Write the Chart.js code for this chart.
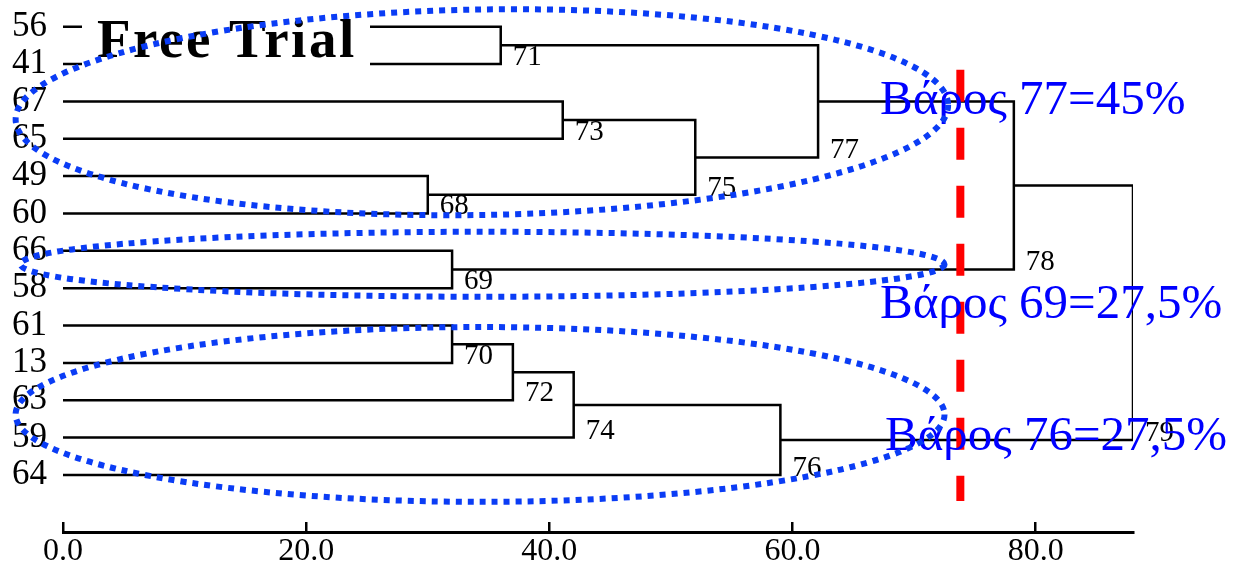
<!DOCTYPE html>
<html>
<head>
<meta charset="utf-8">
<script src="https://cdn.jsdelivr.net/npm/chart.js@4/dist/chart.umd.min.js"></script>
<style>
  html, body { margin: 0; padding: 0; background: #fff; }
  #wrap { width: 1238px; height: 567px; }
</style>
</head>
<body>
<div id="wrap"><canvas id="chart"></canvas></div>
<script>
// leaves, top to bottom
const leaves = ['56', '41', '67', '65', '49', '60', '66', '58', '61', '13', '63', '59', '64'];

// each merge: new node = mergeLeft + mergeRight at mergeHeight
const mergeNodes  = ['71', '73', '68', '75', '77', '69', '78', '70', '72', '74', '76', '79'];
const mergeLeft   = ['56', '67', '49', '73', '71', '66', '77', '61', '70', '72', '74', '78'];
const mergeRight  = ['41', '65', '60', '68', '75', '58', '69', '13', '63', '59', '64', '76'];
const mergeHeight = [36.0, 41.1, 30.0, 52.0, 62.1, 32.0, 78.2, 32.0, 37.0, 42.0, 59.0, 88.0];

const xTicks = [0, 20, 40, 60, 80];
const cutValue = 73.8;
const weightLabels = ['Βάρος 77=45%', 'Βάρος 69=27,5%', 'Βάρος 76=27,5%'];

const SERIF = "'Liberation Serif', 'DejaVu Serif', serif";

// node positions: leaves sit at their index, merged nodes halfway between children
const nodeY = {};
const nodeH = {};
leaves.forEach((l, i) => { nodeY[l] = i; nodeH[l] = 0; });
mergeNodes.forEach((n, i) => {
  nodeY[n] = (nodeY[mergeLeft[i]] + nodeY[mergeRight[i]]) / 2;
  nodeH[n] = mergeHeight[i];
});

const datasets = mergeNodes.map((n, i) => {
  const a = mergeLeft[i], b = mergeRight[i], h = mergeHeight[i];
  return {
    label: n,
    data: [
      { x: nodeH[a], y: nodeY[a] },
      { x: h, y: nodeY[a] },
      { x: h, y: nodeY[b] },
      { x: nodeH[b], y: nodeY[b] },
    ],
    showLine: true,
    borderColor: '#000',
    borderWidth: 2.5,
    pointRadius: 0,
    tension: 0,
  };
});

// annotation layout (in data units)
const ellipses = [
  { cx: 34.45, cy: 2.29, rx: 38.35, ry: 2.75, rot: -0.016 },
  { cx: 34.5, cy: 6.36, rx: 38.0, ry: 0.87, rot: 0 },
  { cx: 34.3, cy: 10.38, rx: 38.2, ry: 2.34, rot: 0 },
];
const weightPos = [{ x: 67.2, y: 2.0 }, { x: 67.2, y: 7.45 }, { x: 67.6, y: 11.0 }];

const overlay = {
  id: 'overlay',
  afterDatasetsDraw(chart) {
    const { ctx, scales: { x, y } } = chart;
    ctx.save();

    // node labels next to each join, sitting on the lower child's line
    ctx.fillStyle = '#000';
    ctx.font = '29px ' + SERIF;
    ctx.textAlign = 'left';
    ctx.textBaseline = 'alphabetic';
    mergeNodes.forEach((n, i) => {
      const px = x.getPixelForValue(mergeHeight[i]) + 12;
      const py = y.getPixelForValue(nodeY[mergeRight[i]]) + 1;
      ctx.fillText(n, px, py);
    });

    // watermark
    ctx.fillStyle = '#fff';
    ctx.fillRect(82, 14, 288, 58);
    ctx.fillStyle = '#000';
    ctx.font = 'bold 55px ' + SERIF;
    ctx.letterSpacing = '2.5px';
    ctx.fillText('Free Trial', 97, 57);
    ctx.letterSpacing = '0px';

    // cut line
    const cx = x.getPixelForValue(cutValue);
    ctx.strokeStyle = '#ff0000';
    ctx.lineWidth = 8;
    ctx.setLineDash([32, 26]);
    ctx.beginPath();
    ctx.moveTo(cx, y.getPixelForValue(1.15));
    ctx.lineTo(cx, y.getPixelForValue(12.7));
    ctx.stroke();

    // weight labels
    ctx.setLineDash([]);
    ctx.fillStyle = '#0000ff';
    ctx.font = '49px ' + SERIF;
    ctx.textBaseline = 'middle';
    weightLabels.forEach((t, i) => {
      ctx.fillText(t, x.getPixelForValue(weightPos[i].x), y.getPixelForValue(weightPos[i].y));
    });

    // cluster ellipses
    const ppx = Math.abs(x.getPixelForValue(1) - x.getPixelForValue(0));
    const ppy = Math.abs(y.getPixelForValue(1) - y.getPixelForValue(0));
    ctx.strokeStyle = '#0a3cf5';
    ctx.lineWidth = 6;
    ctx.setLineDash([6, 6]);
    ellipses.forEach(e => {
      ctx.beginPath();
      ctx.ellipse(x.getPixelForValue(e.cx), y.getPixelForValue(e.cy), e.rx * ppx, e.ry * ppy, e.rot, 0, Math.PI * 2);
      ctx.stroke();
    });
    ctx.restore();
  }
};

new Chart(document.getElementById('chart'), {
  type: 'scatter',
  data: { datasets },
  options: {
    responsive: true,
    maintainAspectRatio: false,
    animation: false,
    layout: { padding: { top: 8, right: 105, bottom: 0, left: 0 } },
    plugins: { legend: { display: false }, tooltip: { enabled: false } },
    scales: {
      x: {
        type: 'linear',
        min: 0,
        max: 88,
        afterBuildTicks: s => { s.ticks = xTicks.map(v => ({ value: v })); },
        afterFit: s => { s.height = 35; s.paddingLeft = 0; s.paddingRight = 0; },
        border: { display: true, color: '#000', width: 3 },
        grid: { drawOnChartArea: false, drawTicks: true, tickLength: -10, color: '#000', lineWidth: 2.5 },
        ticks: {
          color: '#000',
          padding: 10,
          maxRotation: 0,
          autoSkip: false,
          font: { family: SERIF, size: 32 },
          callback: v => Number(v).toFixed(1),
        },
      },
      y: {
        type: 'linear',
        reverse: true,
        min: -0.5,
        max: 13.527,
        afterBuildTicks: s => { s.ticks = leaves.map((l, i) => ({ value: i })); },
        afterFit: s => { s.width = 63; s.paddingTop = 0; s.paddingBottom = 0; },
        border: { display: false },
        grid: { display: false, drawTicks: false },
        ticks: {
          color: '#000',
          padding: 16,
          autoSkip: false,
          font: { family: SERIF, size: 35 },
          callback: v => leaves[Math.round(v)],
        },
      },
    },
  },
  plugins: [overlay],
});
</script>
</body>
</html>
